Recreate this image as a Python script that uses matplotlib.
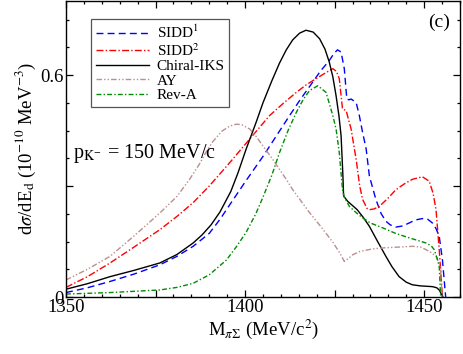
import matplotlib
matplotlib.use("Agg")
import matplotlib.pyplot as plt
from matplotlib.ticker import FixedLocator, FixedFormatter, MultipleLocator

plt.rcParams['font.family'] = ['Liberation Serif', 'DejaVu Serif']
plt.rcParams['mathtext.fontset'] = 'stix'

# ---- data ----
x_sidd1 = [1350, 1356, 1362.3, 1369, 1376.2, 1381, 1385.5, 1390, 1393, 1396.6, 1400.3, 1405, 1408.5,
           1412.4, 1415.5, 1418.9, 1421, 1423.5, 1424.8, 1425.8, 1426.8, 1427.7, 1428.4, 1429, 1429.6,
           1431, 1431.9, 1432.8, 1433.8, 1434.7, 1436.5, 1438, 1439.3, 1440.5, 1442.1, 1444, 1445.8,
           1447.5, 1449.5, 1451, 1452.3, 1453.3, 1454.2, 1455.1, 1456]
y_sidd1 = [0.012, 0.025, 0.042, 0.062, 0.087, 0.11, 0.137, 0.172, 0.21, 0.262, 0.315, 0.38, 0.432,
           0.49, 0.535, 0.581, 0.61, 0.639, 0.658, 0.668, 0.662, 0.617, 0.535, 0.533, 0.535,
           0.526, 0.49, 0.445, 0.40, 0.327, 0.264, 0.225, 0.205, 0.195, 0.189, 0.192, 0.20,
           0.208, 0.212, 0.21, 0.20, 0.185, 0.164, 0.10, 0.0]

x_sidd2 = [1350, 1356, 1362.3, 1369, 1376.2, 1381, 1385.5, 1390, 1395.7, 1401.3, 1406.8, 1410.5,
           1414.3, 1417, 1419.8, 1422.5, 1424.5, 1425.5, 1426.3, 1427.2, 1428.2, 1429.6, 1431, 1432,
           1432.8, 1434, 1434.7, 1436, 1437.5, 1440, 1442.1, 1444.5, 1446.7, 1449.5, 1451.4, 1452.5,
           1453.3, 1454.2, 1455.1]
y_sidd2 = [0.026, 0.055, 0.092, 0.135, 0.182, 0.218, 0.255, 0.30, 0.363, 0.427, 0.49, 0.522,
           0.553, 0.573, 0.59, 0.606, 0.617, 0.61, 0.59, 0.508, 0.504, 0.454, 0.372, 0.30,
           0.264, 0.24, 0.236, 0.238, 0.245, 0.268, 0.29, 0.306, 0.318, 0.325, 0.313, 0.28,
           0.236, 0.128, 0.0]

x_iks = [1350, 1356, 1362.3, 1369, 1376.2, 1381, 1385.5, 1388, 1390.5, 1393, 1396, 1398, 1400.3,
         1403, 1405, 1407.5, 1409.6, 1411.5, 1413.3, 1415.2, 1417, 1419, 1420.8, 1422.3, 1423.5,
         1424.5, 1425.4, 1426.2, 1426.8, 1427.3, 1427.5, 1428.6, 1431.3, 1433, 1434.7, 1437, 1439.3,
         1441, 1443, 1445, 1446.7, 1449, 1452.3, 1453.5, 1454.2, 1454.8, 1455.2]
y_iks = [0.021, 0.036, 0.055, 0.072, 0.092, 0.115, 0.146, 0.168, 0.195, 0.23, 0.285, 0.335, 0.40,
         0.47, 0.525, 0.585, 0.632, 0.668, 0.695, 0.713, 0.721, 0.716, 0.698, 0.67, 0.635,
         0.595, 0.544, 0.49, 0.436, 0.33, 0.273, 0.259, 0.236, 0.215, 0.191, 0.15, 0.11,
         0.082, 0.055, 0.04, 0.033, 0.03, 0.028, 0.025, 0.019, 0.008, 0.0]

x_ay = [1350, 1356, 1362.3, 1369, 1376.2, 1381, 1384.5, 1387.3, 1389, 1391, 1393.5, 1395.7, 1397.5,
        1399, 1401.3, 1403, 1405, 1407.5, 1409.6, 1411.5, 1413.3, 1415.2, 1418, 1421, 1424.5,
        1426.5, 1427.7, 1429, 1430, 1432, 1435.6, 1439, 1443, 1446.7, 1449, 1450.5, 1452, 1453.3,
        1454.2, 1454.6, 1455]
y_ay = [0.046, 0.075, 0.11, 0.165, 0.227, 0.272, 0.318, 0.36, 0.39, 0.42, 0.448, 0.462, 0.467,
        0.466, 0.454, 0.435, 0.408, 0.375, 0.345, 0.318, 0.29, 0.265, 0.228, 0.192, 0.148,
        0.118, 0.096, 0.105, 0.114, 0.123, 0.13, 0.133, 0.135, 0.137, 0.135, 0.128, 0.12, 0.11,
        0.09, 0.073, 0.0]

x_reva = [1350, 1362.3, 1376.2, 1381, 1385.5, 1390, 1394.8, 1397.5, 1400.3, 1403, 1405, 1407.5,
          1409.6, 1412, 1414.3, 1416.3, 1418, 1420.3, 1422.6, 1424.5, 1425.4, 1426.3, 1427.2,
          1427.7, 1429.1, 1431, 1432.8, 1435, 1438.4, 1442, 1445.8, 1448.5, 1450.5, 1452, 1452.8,
          1453.6, 1454.2, 1454.6]
y_reva = [0.008, 0.012, 0.019, 0.026, 0.037, 0.06, 0.10, 0.135, 0.175, 0.225, 0.27, 0.33,
          0.39, 0.45, 0.499, 0.535, 0.558, 0.571, 0.553, 0.49, 0.454, 0.39, 0.29,
          0.27, 0.245, 0.228, 0.214, 0.2, 0.187, 0.172, 0.16, 0.152, 0.146, 0.138, 0.128,
          0.105, 0.082, 0.0]

x_major = [1350, 1375, 1400, 1425, 1450]
x_labels = ['1350', '', '1400', '', '1450']
y_major = [0, 0.3, 0.6]
y_labels = ['0', '', '0.6']

# ---- figure ----
fig = plt.figure(figsize=(4.63, 3.54), dpi=100)
ax = fig.add_axes([66/463, 57/354, 394/463, 296/354])

lw = 1.0
ax.plot(x_sidd1, y_sidd1, color='#0000ff', lw=lw, ls=(0, (5, 3)), label='SIDD$^1$')
ax.plot(x_sidd2, y_sidd2, color='#ff0000', lw=lw, ls=(0, (5, 1.6, 1, 1.6)), label='SIDD$^2$')
ax.plot(x_iks, y_iks, color='black', lw=lw, ls='-', label='Chiral-IKS')
ax.plot(x_ay, y_ay, color='#bc8f8f', lw=lw, ls=(0, (4, 1.5, 1, 1.5, 1, 1.5)), label='AY')
ax.plot(x_reva, y_reva, color='#008b00', lw=lw, ls=(0, (3.5, 1.6, 1, 1.6)), label='Rev-A')

ax.set_xlim(1350, 1460)
ax.set_ylim(0, 0.8)

ax.xaxis.set_major_locator(FixedLocator(x_major))
ax.xaxis.set_major_formatter(FixedFormatter(x_labels))
ax.xaxis.set_minor_locator(MultipleLocator(5))
ax.yaxis.set_major_locator(FixedLocator(y_major))
ax.yaxis.set_major_formatter(FixedFormatter(y_labels))
ax.yaxis.set_minor_locator(MultipleLocator(0.075))

ax.tick_params(which='both', direction='in', top=True, right=True, width=0.9)
ax.tick_params(which='major', length=5, labelsize=13.5, pad=1.5)
ax.tick_params(which='minor', length=2.5)
for s in ax.spines.values():
    s.set_linewidth(1.0)

ax.set_xlabel(r'M$_{\pi\Sigma}$ (MeV/c$^2$)', fontsize=13.5, labelpad=1)
ax.set_ylabel(r'd$\sigma$/dE$_\mathrm{d}$ (10$^{-10}$ MeV$^{-3}$)', fontsize=13.5, labelpad=2)

ax.text(0.919, 0.929, '(c)', transform=ax.transAxes, fontsize=14, ha='left', va='center')
ax.text(0.018, 0.47, r'p$_{\mathrm{K}^{-}}$ = 150 MeV/c', transform=ax.transAxes,
        fontsize=14.5, ha='left', va='baseline')

leg = ax.legend(loc='upper left', bbox_to_anchor=(0.0635, 0.938), borderaxespad=0,
                fontsize=11, handlelength=3.5, handletextpad=0.5, borderpad=0.3,
                labelspacing=0.05, fancybox=False, framealpha=1, edgecolor='#555555')
leg.get_frame().set_linewidth(0.9)

fig.savefig('out.png', dpi=100)
